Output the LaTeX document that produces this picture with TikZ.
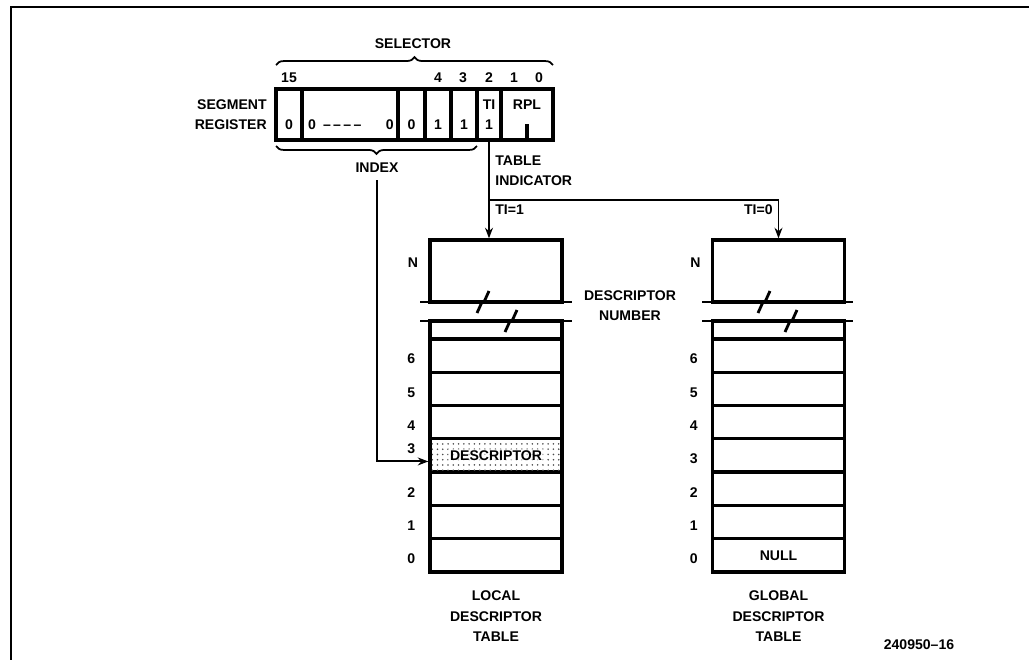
\documentclass[tikz,border=0pt]{standalone}
\usepackage{fontspec}
\setmainfont{Liberation Sans}
\usetikzlibrary{arrows.meta, positioning, calc, decorations.pathreplacing, patterns}

\tikzset{
  lbl/.style={font=\fontsize{8}{11.5}\selectfont\bfseries, inner sep=0pt, align=center},
  regcell/.style={draw, line width=1.9pt, inner sep=0pt, minimum height=51*0.02cm},
  slot/.style={draw, line width=1.9pt, inner sep=0pt, minimum width=132*0.02cm},
  brk/.style={line width=1.6pt},
  wire/.style={line width=1.1pt},
  ptr/.style={wire, -{Stealth[length=6pt,width=4.5pt]}},
}

\begin{document}
\begin{tikzpicture}[x=0.02cm, y=-0.02cm]
\useasboundingbox (0,0) rectangle (1029,660);

% --- marco ---
\draw[line width=1.2pt] (11,660) -- (11,7) -- (1029,7);

% --- registro de segmento ---
\node[regcell, minimum width=26*0.02cm] (r15) at (289,114.5) {};
\node[regcell, minimum width=96*0.02cm] (rmid) at (350,114.5) {};
\node[regcell, minimum width=27*0.02cm] (r5) at (411.5,114.5) {};
\node[regcell, minimum width=26*0.02cm] (r4) at (438,114.5) {};
\node[regcell, minimum width=26*0.02cm] (r3) at (464,114.5) {};
\node[regcell, minimum width=24*0.02cm] (rti) at (489,114.5) {};
\node[regcell, minimum width=52*0.02cm] (rrpl) at (527,114.5) {};
\draw[line width=1.9pt] (rrpl.south) -- ++(0,-18);

% valores de los bits
\foreach \x/\v in {289/0, 411.5/0, 438/1, 464/1, 489/1} {
    \node[lbl] at (\x,125) {\v};
}
\node[lbl] at (351,125) {0\hspace{4pt}\textendash\,\textendash\,\textendash\,\textendash\hspace{14pt}0};
\node[lbl] at (489,105) {TI};
\node[lbl] at (527,105) {RPL};
\node[lbl, anchor=east, align=right] (segreg) at (267,114.5) {SEGMENT\\REGISTER};

% numeros de bit
\foreach \x/\b in {289/15, 438/4, 463/3, 489/2, 514/1, 539/0} {
    \node[lbl] at (\x,78) {\b};
}

% llaves
\draw[line width=1pt, decorate, decoration={brace, amplitude=4.5pt}] (276,65) -- (553,65);
\node[lbl] (selector) at (413,44) {SELECTOR};
\draw[line width=1pt, decorate, decoration={brace, amplitude=4.5pt}] (477,146) -- (276,146);
\node[lbl] (index) at (377,168) {INDEX};

% --- tablas de descriptores ---
\foreach \t/\cx in {ldt/496, gdt/778.5} {
    \node[slot, minimum height=62*0.02cm] (\t n) at (\cx,271) {};
    \node[slot, minimum height=18*0.02cm] (\t p) at (\cx,330) {};
    \foreach \i in {0,...,6} {
        \node[slot, minimum height=33.3*0.02cm] (\t\i) at (\cx,{555.35-33.3*\i}) {};
    }
    \node[lbl] at ([xshift=-0.34cm]\cx-66,263) {N};
}

% numeros de descriptor
\foreach \i/\dy in {0/-2, 1/-2, 2/-2, 3/4, 4/-2, 5/-2, 6/-2} {
    \node[lbl] at ([xshift=-0.34cm, yshift=\dy pt]ldt\i.west) {\i};
}
\foreach \i in {0,...,6} {
    \node[lbl] at ([xshift=-0.34cm, yshift=-2pt]gdt\i.west) {\i};
}

% cortes
\foreach \xl/\xr/\za/\zb in {420/572/477/505, 702/853/758/785} {
    \draw[brk] (\xl,302) -- (\xr,302);
    \draw[brk] (\za,313) -- (\za+5,302) -- (\za+7,302) -- (\za+12,291);
    \draw[brk] (\xl,321) -- (\xr,321);
    \draw[brk] (\zb,332) -- (\zb+5,321) -- (\zb+7,321) -- (\zb+12,310);
}

% descriptor seleccionado
\fill[pattern=dots, pattern color=black!70] ([shift={(2pt,-2pt)}]ldt3.north west) rectangle ([shift={(-2pt,2pt)}]ldt3.south east);
\node[lbl, fill=white, inner sep=1pt, fill opacity=0.6, text opacity=1] at (ldt3) {DESCRIPTOR};
\node[lbl] at (gdt0) {NULL};

\node[lbl] (descnum) at (630,306) {DESCRIPTOR\\NUMBER};
\node[lbl, below=0.34cm of ldt0] (ldtname) {LOCAL\\DESCRIPTOR\\TABLE};
\node[lbl, below=0.34cm of gdt0] (gdtname) {GLOBAL\\DESCRIPTOR\\TABLE};
\node[lbl] (fignum) at (919,645) {240950\textendash16};

% --- indicador de tabla ---
\coordinate (forky) at (0,200);
\coordinate (fork) at (rti.south |- forky);
\draw[wire] (rti.south) -- (fork);
\draw[ptr] (fork) -- (fork |- ldtn.north);
\draw[ptr] (fork) -| (gdtn.north);
\node[lbl, anchor=west, align=left] (tind) at (495,171) {TABLE\\INDICATOR};
\node[lbl, anchor=west] (ti1) at (495,210) {TI=1};
\node[lbl, anchor=east] (ti0) at (773,210) {TI=0};

% --- indice ---
\draw[ptr, shorten <=4pt] (index.south) |- ([yshift=-0.12cm]ldt3.west);

\end{tikzpicture}
\end{document}
